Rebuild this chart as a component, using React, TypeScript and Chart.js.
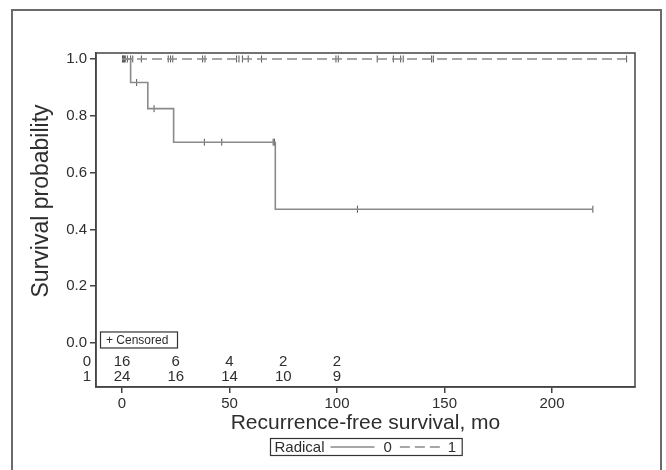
import React, { useEffect, useRef } from 'react';
import { Chart, registerables } from 'chart.js';

Chart.register(...registerables);

// ---- data ----
const group0StepTimes = [0, 4, 12, 24, 71.3, 219];
const group0StepSurv = [1, 0.917, 0.825, 0.707, 0.471, 0.471];
const group1LineTimes = [0, 234.7];
const group1LineSurv = [1, 1];
const group0CensorTimes = [0.5, 1.5, 2.5, 6.8, 14.9, 38.3, 46.4, 70.3, 70.9, 109.5, 219];
const group1CensorTimes = [0.2, 0.8, 1.2, 4, 5, 9, 21.5, 22.6, 23.6, 37.5, 38.6, 53.3, 54.4, 56, 58.7, 64.9, 99.5, 100.6, 118.7, 126.2, 129.6, 130.8, 144, 144.8, 234.7];
const xTickValues = [0, 50, 100, 150, 200];
const yTickValues = [0, 0.2, 0.4, 0.6, 0.8, 1.0];
const riskTimes = [0, 25, 50, 75, 100];
const riskGroup0 = [16, 6, 4, 2, 2];
const riskGroup1 = [24, 16, 14, 10, 9];
const groupLabels = ['0', '1'];
const legendTitle = 'Radical';
const censoredLabel = '+ Censored';
const xTitle = 'Recurrence-free survival, mo';
const yTitle = 'Survival probability';

const FONT = "'Liberation Sans', Arial, Helvetica, sans-serif";
const TEXT = '#2e2e2e';
const AXIS = '#444444';
const LINE = '#8a8a8a';
const MARK = '#555555';

function survAt(times: number[], surv: number[], t: number) {
  let s = surv[0];
  for (let i = 0; i < times.length; i++) if (times[i] <= t) s = surv[i];
  return s;
}

const decorPlugin = {
  id: 'decor',
  beforeDraw(chart: any) {
    const { ctx, width, height } = chart;
    ctx.save();
    ctx.fillStyle = '#ffffff';
    ctx.fillRect(0, 0, width, height);
    ctx.restore();
  },
  afterDraw(chart: any) {
    const { ctx, chartArea } = chart;
    const xs = chart.scales.x;
    const ys = chart.scales.y;
    ctx.save();
    // outer frame
    ctx.strokeStyle = '#6a6a6a';
    ctx.lineWidth = 2;
    ctx.strokeRect(12, 10, 649, 480);
    // plot box
    ctx.strokeStyle = AXIS;
    ctx.lineWidth = 1.5;
    ctx.strokeRect(chartArea.left, chartArea.top, chartArea.right - chartArea.left, chartArea.bottom - chartArea.top);

    const y0 = ys.getPixelForValue(0);
    const y1 = ys.getPixelForValue(1);

    // y-axis title, centred on the 0..1 range
    ctx.save();
    ctx.translate(42, (y0 + y1) / 2);
    ctx.rotate(-Math.PI / 2);
    ctx.fillStyle = TEXT;
    ctx.font = `23px ${FONT}`;
    ctx.textAlign = 'center';
    ctx.textBaseline = 'middle';
    ctx.fillText(yTitle, 0, 0);
    ctx.restore();

    // censored note
    ctx.lineWidth = 1.2;
    ctx.strokeStyle = '#333';
    ctx.strokeRect(chartArea.left + 4.5, y0 - 11, 77, 16);
    ctx.fillStyle = TEXT;
    ctx.font = `12px ${FONT}`;
    ctx.textAlign = 'left';
    ctx.textBaseline = 'middle';
    ctx.fillText(censoredLabel, chartArea.left + 10, y0 - 2.5);

    // risk table
    ctx.font = `15px ${FONT}`;
    const rows = [riskGroup0, riskGroup1];
    rows.forEach((row, r) => {
      const yy = y0 + 19 + r * 15;
      ctx.textAlign = 'right';
      ctx.fillText(groupLabels[r], chartArea.left - 5, yy);
      ctx.textAlign = 'center';
      row.forEach((n, i) => {
        ctx.fillText(String(n), xs.getPixelForValue(riskTimes[i]), yy);
      });
    });

    // legend
    const ds = chart.data.datasets;
    ctx.font = `15px ${FONT}`;
    const wTitle = ctx.measureText(legendTitle).width;
    const w0 = ctx.measureText(groupLabels[0]).width;
    const w1 = ctx.measureText(groupLabels[1]).width;
    const lineLen = 44;
    const dashLen = 40;
    const totalW = 4 + wTitle + 6 + lineLen + 9 + w0 + 8 + dashLen + 8 + w1 + 6;
    const cx = (chartArea.left + chartArea.right) / 2;
    const bx = Math.round(cx - totalW / 2) + 0.5;
    const by = 438.5;
    const bh = 17;
    ctx.lineWidth = 1.2;
    ctx.strokeStyle = '#333';
    ctx.strokeRect(bx, by, totalW, bh);
    const ly = by + bh / 2;
    let px = bx + 4;
    ctx.textAlign = 'left';
    ctx.fillStyle = TEXT;
    ctx.fillText(legendTitle, px, ly + 0.5);
    px += wTitle + 6;
    ctx.strokeStyle = ds[0].borderColor;
    ctx.lineWidth = ds[0].borderWidth;
    ctx.setLineDash(ds[0].borderDash || []);
    ctx.beginPath();
    ctx.moveTo(px, ly);
    ctx.lineTo(px + lineLen, ly);
    ctx.stroke();
    px += lineLen + 9;
    ctx.fillText(groupLabels[0], px, ly + 0.5);
    px += w0 + 8;
    ctx.strokeStyle = ds[1].borderColor;
    ctx.lineWidth = ds[1].borderWidth;
    ctx.setLineDash(ds[1].borderDash || []);
    ctx.beginPath();
    ctx.moveTo(px, ly);
    ctx.lineTo(px + dashLen, ly);
    ctx.stroke();
    ctx.setLineDash([]);
    px += dashLen + 8;
    ctx.fillText(groupLabels[1], px, ly + 0.5);
    ctx.restore();
  },
};

export default function App() {
  const ref = useRef<HTMLCanvasElement | null>(null);
  useEffect(() => {
    if (!ref.current) return;
    const chart = new Chart(ref.current, {
      type: 'scatter',
      data: {
        datasets: [
          {
            type: 'line',
            label: groupLabels[0],
            data: group0StepTimes.map((t, i) => ({ x: t, y: group0StepSurv[i] })),
            stepped: 'before',
            borderColor: LINE,
            borderWidth: 1.6,
            pointRadius: 0,
            fill: false,
          },
          {
            type: 'line',
            label: groupLabels[1],
            data: group1LineTimes.map((t, i) => ({ x: t, y: group1LineSurv[i] })),
            borderColor: LINE,
            borderWidth: 1.6,
            borderDash: [10, 5],
            pointRadius: 0,
            fill: false,
          },
          {
            label: 'c0',
            data: group0CensorTimes.map((t) => ({ x: t, y: survAt(group0StepTimes, group0StepSurv, t) })),
            pointStyle: 'line',
            rotation: 90,
            radius: 3.5,
            borderColor: MARK,
            borderWidth: 1,
          },
          {
            label: 'c1',
            data: group1CensorTimes.map((t) => ({ x: t, y: 1 })),
            pointStyle: 'line',
            rotation: 90,
            radius: 3.5,
            borderColor: MARK,
            borderWidth: 1,
          },
        ],
      },
      options: {
        animation: false,
        responsive: false,
        devicePixelRatio: 1,
        layout: { padding: { left: 0, top: 53, right: 31, bottom: 0 } },
        plugins: { legend: { display: false }, tooltip: { enabled: false } },
        scales: {
          x: {
            type: 'linear',
            min: -12.1,
            max: 238.6,
            afterBuildTicks: (s: any) => { s.ticks = xTickValues.map((v) => ({ value: v })); },
            afterFit: (s: any) => { s.height = 83; },
            grid: { drawOnChartArea: false, drawTicks: true, tickLength: 6, color: AXIS, lineWidth: 1.5 },
            border: { display: true, color: AXIS, width: 1.5 },
            ticks: { color: TEXT, font: { family: FONT, size: 15 }, padding: 2, maxRotation: 0 },
            title: { display: true, text: xTitle, color: TEXT, font: { family: FONT, size: 21 }, padding: { top: 0, bottom: 34 } },
          },
          y: {
            type: 'linear',
            min: -0.155,
            max: 1.021,
            afterBuildTicks: (s: any) => { s.ticks = yTickValues.map((v) => ({ value: v })); },
            afterFit: (s: any) => { s.width = 96; },
            grid: { drawOnChartArea: false, drawTicks: true, tickLength: 6, color: AXIS, lineWidth: 1.5 },
            border: { display: true, color: AXIS, width: 1.5 },
            ticks: { color: TEXT, font: { family: FONT, size: 15 }, padding: 3, callback: (v: any) => Number(v).toFixed(1) },
            title: { display: false },
          },
        },
      },
      plugins: [decorPlugin],
    } as any);
    return () => chart.destroy();
  }, []);
  return (
    <div style={{ position: 'fixed', left: 0, top: 0, width: 666, height: 470, background: '#fff' }}>
      <canvas ref={ref} width={666} height={470} style={{ display: 'block' }} />
    </div>
  );
}
